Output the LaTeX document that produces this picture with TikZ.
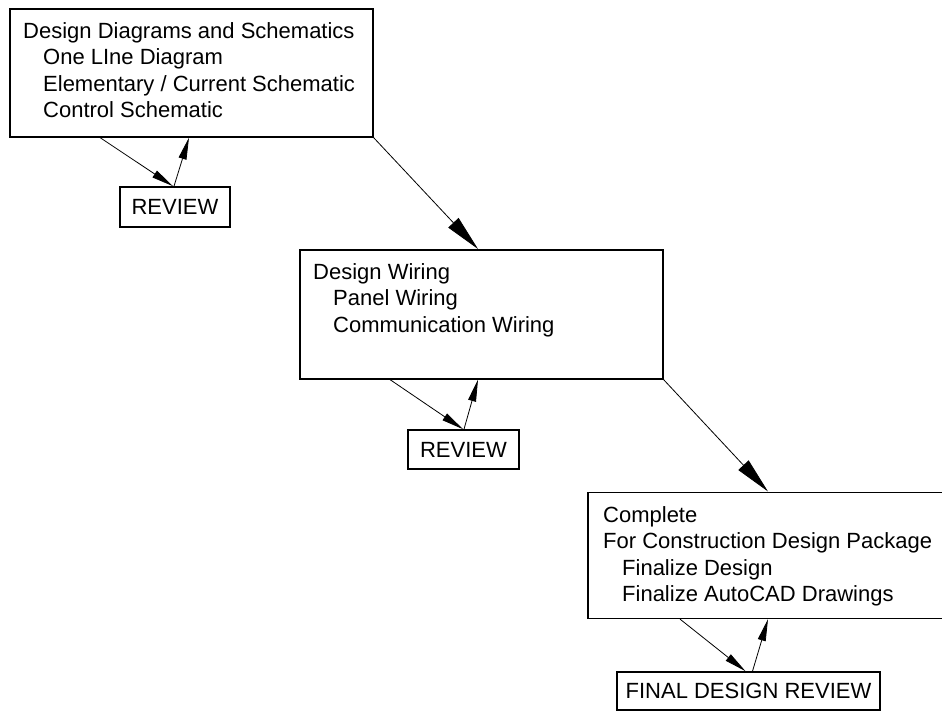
\documentclass[tikz,border=0pt]{standalone}
\usepackage{fontspec}
\setmainfont{Liberation Sans}
\usetikzlibrary{positioning,arrows.meta}
\newlength{\lwidth}
\setlength{\lwidth}{1.6pt}

\begin{document}
\begin{tikzpicture}[x=1pt,y=-1pt,
  blk/.style={draw,line width=\lwidth,rectangle,inner sep=0pt,anchor=north west},
  revbox/.style={draw,line width=\lwidth,rectangle,inner sep=0pt,
                 font=\fontsize{22}{26.5}\selectfont},
  txt/.style={align=left,anchor=base west,inner sep=0pt,
              font=\fontsize{22}{26.5}\selectfont},
  mainarrow/.style={line width=.5\lwidth,-{Triangle[length=36pt,width=14pt]}},
  revarrow/.style={line width=.5\lwidth,-{Triangle[length=22pt,width=8pt]}}]
  \useasboundingbox (0,0) rectangle (942,711);

  %% design diagrams
  %% ------------------------------------
  \node[blk,minimum width=363pt,minimum height=128pt] (design) at (9,8) {};
  \node[txt] (designtxt) at (23,118)
    {Design Diagrams and Schematics\\
     \hspace*{20pt}One LIne Diagram\\
     \hspace*{20pt}Elementary / Current Schematic\\
     \hspace*{20pt}Control Schematic};
  \node[revbox,minimum width=110pt,minimum height=40pt] (rev1) at (175,207) {REVIEW};

  %% design wiring
  %% ------------------------------------
  \node[blk,minimum width=363pt,minimum height=129pt] (wiring) at (299,249) {};
  \node[txt] (wiringtxt) at (313,332)
    {Design Wiring\\
     \hspace*{20pt}Panel Wiring\\
     \hspace*{20pt}Communication Wiring};
  \node[revbox,minimum width=111pt,minimum height=39pt] (rev2) at (463.5,449.5) {REVIEW};

  %% complete package
  %% ------------------------------------
  \node[blk,minimum width=358pt,minimum height=126pt] (package) at (587,491.5) {};
  \node[txt] (packagetxt) at (603,601.5)
    {Complete\\
     For Construction Design Package\\
     \hspace*{19pt}Finalize Design\\
     \hspace*{19pt}Finalize AutoCAD Drawings};
  \node[revbox,minimum width=263pt,minimum height=38pt] (rev3) at (748.5,691) {FINAL DESIGN REVIEW};

  %% connectors
  %% ------------------------------------
  \draw[revarrow] ([xshift=91pt]design.south west) -- ([xshift=-2pt]rev1.north);
  \draw[revarrow] ([xshift=-1pt]rev1.north) -- ([xshift=180pt]design.south west);
  \draw[mainarrow] (design.south east) -- ([xshift=179pt]wiring.north west);

  \draw[revarrow] ([xshift=91pt]wiring.south west) -- ([xshift=-0.5pt]rev2.north);
  \draw[revarrow] ([xshift=0.5pt]rev2.north) -- ([xshift=179pt]wiring.south west);
  \draw[mainarrow] (wiring.south east) -- ([xshift=181pt]package.north west);

  \draw[revarrow] ([xshift=93pt]package.south west) -- ([xshift=-3pt]rev3.north);
  \draw[revarrow] ([xshift=4pt]rev3.north) -- ([xshift=181pt]package.south west);
\end{tikzpicture}
\end{document}
